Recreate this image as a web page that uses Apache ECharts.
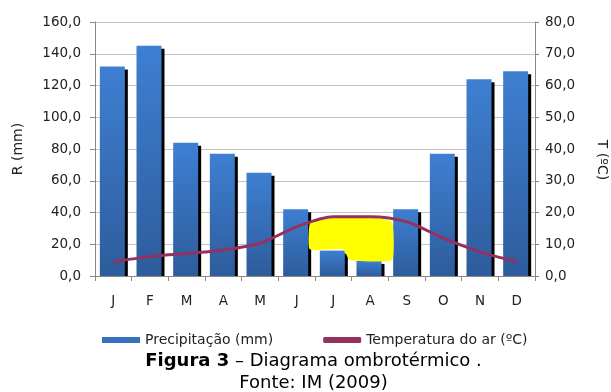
<!DOCTYPE html>
<html>
<head>
<meta charset="utf-8">
<script src="https://cdn.jsdelivr.net/npm/echarts@6/dist/echarts.min.js"></script>
<style>
html,body{margin:0;padding:0;background:#fff;}
#c{width:611px;height:392px;position:relative;}
#cap{position:absolute;left:8px;top:349px;width:611px;text-align:center;font-family:"DejaVu Sans",sans-serif;font-size:18px;line-height:21.5px;color:#000;white-space:nowrap;}
</style>
</head>
<body>
<div id="c"></div>
<div id="cap"><b>Figura 3</b> – Diagrama ombrotérmico .<br>Fonte: IM (2009)</div>
<script>
var months = ['J','F','M','A','M','J','J','A','S','O','N','D'];
var precipitation = [132, 145, 84, 77, 65, 42, 16, 9.5, 42, 77, 124, 129];
var temperature = [4.5, 6.1, 7.1, 8.2, 10.3, 15.5, 18.7, 18.7, 17.1, 11.9, 7.6, 4.5];
var leftTicks = [0, 160, 20];
var rightTicks = [0, 80, 10];
// dry-season highlight outline: [month position, mm]
var dryArea = [[5.36,33.4],[5.64,35.2],[6.18,36.8],[7.14,36.5],[7.60,34],[7.60,10.1],[6.45,10.1],[6.26,16.8],[5.36,16.8]];

var chart = echarts.init(document.getElementById('c'));
var FONT = 'DejaVu Sans, sans-serif';
var lbl = {color:'#222', fontFamily:FONT, fontSize:13.5};
function fmt(v){return v.toFixed(1).replace('.',',');}
var barGrad = new echarts.graphic.LinearGradient(0,0,0,1,[{offset:0,color:'#3e7fd2'},{offset:1,color:'#2e5c9c'}]);
var BAR_W = 25, SH = 3;
chart.setOption({
  animation:false,
  grid:{left:95,right:76,top:22,bottom:116,outerBoundsMode:'none',containLabel:false},
  legend:{
    top:328, left:97, itemGap:50,
    textStyle:{color:'#222',fontFamily:FONT,fontSize:14},
    itemWidth:38, itemHeight:6,
    data:[
      {name:'Precipitação (mm)',icon:'rect',itemStyle:{color:'#3670bf'}},
      {name:'Temperatura do ar (ºC)',icon:'roundRect',itemStyle:{color:'#96305f'}}
    ]
  },
  xAxis:[{
    type:'category', data:months, boundaryGap:true,
    axisLine:{lineStyle:{color:'#888'}},
    axisTick:{show:true, length:5, lineStyle:{color:'#888'}},
    axisLabel:Object.assign({margin:18}, lbl),
    z:5
  },{
    type:'value', min:-0.5, max:11.5, show:false
  }],
  yAxis:[{
    type:'value', min:leftTicks[0], max:leftTicks[1], interval:leftTicks[2],
    name:'R (mm)', nameLocation:'middle', nameGap:70,
    nameTextStyle:{color:'#222',fontFamily:FONT,fontSize:14},
    axisLine:{show:true,onZero:false,lineStyle:{color:'#888'}},
    axisTick:{show:true,length:5,lineStyle:{color:'#888'}},
    axisLabel:Object.assign({margin:14, formatter:fmt}, lbl),
    splitLine:{lineStyle:{color:'#c4c4c4'}}
  },{
    type:'value', min:rightTicks[0], max:rightTicks[1], interval:rightTicks[2], position:'right',
    name:'T (ºC)', nameLocation:'middle', nameGap:60, nameRotate:-90,
    nameTextStyle:{color:'#222',fontFamily:FONT,fontSize:14, padding:[0,0,0,22]},
    axisLine:{show:true,onZero:false,lineStyle:{color:'#888'}},
    axisTick:{show:true,length:4,lineStyle:{color:'#888'}},
    axisLabel:Object.assign({margin:10, formatter:fmt}, lbl),
    splitLine:{show:false}
  }],
  series:[{
    name:'Precipitação (mm)', type:'custom', xAxisIndex:0, yAxisIndex:0,
    data:precipitation.map(function(v,i){return [i,v];}),
    encode:{x:0,y:1},
    itemStyle:{color:'#3670bf'},
    renderItem:function(params, api){
      var top = api.coord([api.value(0), api.value(1)]);
      var base = api.coord([api.value(0), 0]);
      var x = top[0] - BAR_W/2 - 1;
      var h = base[1] - top[1];
      return {type:'group', children:[
        {type:'rect', shape:{x:x+SH, y:top[1]+SH, width:BAR_W, height:Math.max(h-SH,0)}, style:{fill:'#000'}},
        {type:'rect', shape:{x:x, y:top[1], width:BAR_W, height:h}, style:{fill:barGrad}}
      ]};
    },
    z:2
  },{
    name:'dry', type:'custom', xAxisIndex:1, yAxisIndex:0, data:[0],
    renderItem:function(params, api){
      var pts = dryArea.map(function(p){return api.coord(p);});
      return {type:'polygon', shape:{points:pts, smooth:0.15}, style:{fill:'#ffff00'}};
    },
    z:3, silent:true
  },{
    name:'Temperatura do ar (ºC)', type:'line', yAxisIndex:1, data:temperature,
    smooth:0.3, symbol:'none',
    lineStyle:{color:'#96305f', width:3},
    itemStyle:{color:'#96305f'},
    z:4
  }]
});
</script>
</body>
</html>
